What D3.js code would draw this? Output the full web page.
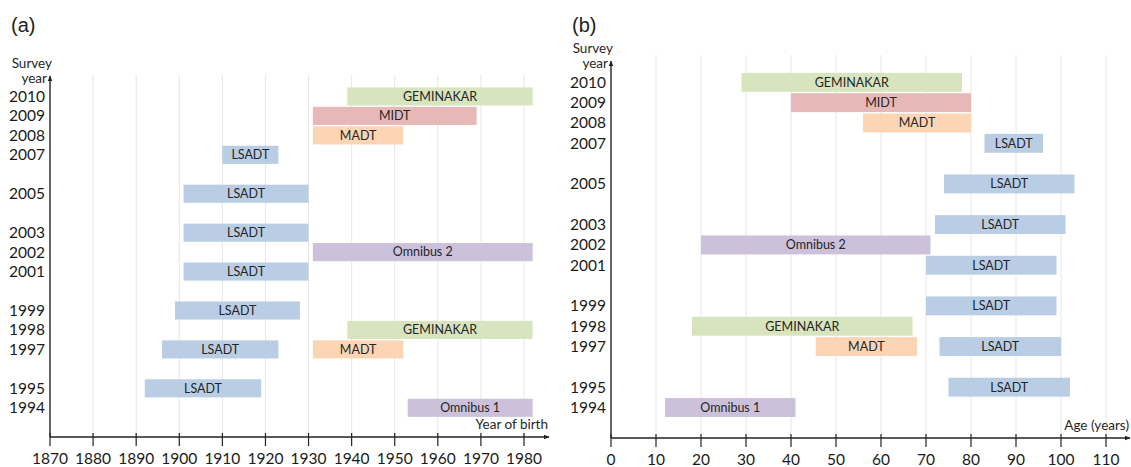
<!DOCTYPE html>
<html>
<head>
<meta charset="utf-8">
<script src="https://cdn.jsdelivr.net/npm/d3@7"></script>
<style>
  body { margin: 0; background: #fff; }
  svg { display: block; }
  .tick-lbl { font-family: Lato, "Open Sans", sans-serif; font-size: 15.5px; fill: #1a1a1a; }
  .bar-lbl  { font-family: Lato, "Open Sans", sans-serif; font-size: 12.5px; fill: #262626; }
  .ax-title { font-family: Lato, "Open Sans", sans-serif; font-size: 13.5px; fill: #262626; }
  .panel    { font-family: "Liberation Sans", Arial, sans-serif; font-size: 20px; fill: #222; }
</style>
</head>
<body>
<svg id="chart" width="1131" height="467"></svg>
<script>
// ── Data: panel (a) by year of birth ───────────────────
const surveyYearsA = [2010, 2009, 2008, 2007, 2005, 2003, 2002, 2001, 1999, 1998, 1997, 1997, 1995, 1994];
const studiesA     = ['GEMINAKAR', 'MIDT', 'MADT', 'LSADT', 'LSADT', 'LSADT', 'Omnibus 2', 'LSADT', 'LSADT', 'GEMINAKAR', 'LSADT', 'MADT', 'LSADT', 'Omnibus 1'];
const birthFromA   = [1939, 1931, 1931, 1910, 1901, 1901, 1931, 1901, 1899, 1939, 1896, 1931, 1892, 1953];
const birthToA     = [1982, 1969, 1952, 1923, 1930, 1930, 1982, 1930, 1928, 1982, 1923, 1952, 1919, 1982];

// ── Data: panel (b) by age ─────────────────────────────
const surveyYearsB = [2010, 2009, 2008, 2007, 2005, 2003, 2002, 2001, 1999, 1998, 1997, 1997, 1995, 1994];
const studiesB     = ['GEMINAKAR', 'MIDT', 'MADT', 'LSADT', 'LSADT', 'LSADT', 'Omnibus 2', 'LSADT', 'LSADT', 'GEMINAKAR', 'MADT', 'LSADT', 'LSADT', 'Omnibus 1'];
const ageFromB     = [29, 40, 56, 83, 74, 72, 20, 70, 70, 18, 45.5, 73, 75, 12];
const ageToB       = [78, 80, 80, 96, 103, 101, 71, 99, 99, 67, 68, 100, 102, 41];

// Axis tick labels
const yearTicks  = [2010, 2009, 2008, 2007, 2005, 2003, 2002, 2001, 1999, 1998, 1997, 1995, 1994];
const birthTicks = d3.range(1870, 1981, 10);
const ageTicks   = d3.range(0, 111, 10);

const studyColor = {
  'LSADT':     '#b9cde5',
  'GEMINAKAR': '#d7e4bd',
  'MIDT':      '#e6b9b8',
  'MADT':      '#fcd5b5',
  'Omnibus 1': '#ccc1da',
  'Omnibus 2': '#ccc1da'
};

const svg = d3.select('#chart');

// Arrow head marker
svg.append('defs').append('marker')
  .attr('id', 'arrow')
  .attr('viewBox', '0 0 10 10')
  .attr('refX', 9).attr('refY', 5)
  .attr('markerWidth', 6).attr('markerHeight', 6)
  .attr('markerUnits', 'userSpaceOnUse')
  .attr('orient', 'auto')
  .append('path')
  .attr('d', 'M0,1 L10,5 L0,9 Z')
  .attr('fill', '#222');

function drawPanel(cfg) {
  const g = svg.append('g');
  const x = d3.scaleLinear().domain(cfg.xDomain).range([cfg.x0, cfg.x1]);
  const y = d3.scaleLinear().domain([1992.5, 2011.05]).range([cfg.yBottom, cfg.yTop]);
  const barH = (y(0) - y(1)) * 0.93;

  // Vertical grid
  g.append('g').selectAll('line')
    .data(cfg.xTicks.slice(1))
    .join('line')
    .attr('x1', d => x(d)).attr('x2', d => x(d))
    .attr('y1', cfg.gridTop).attr('y2', cfg.yBottom)
    .attr('stroke', '#e6e6e6').attr('stroke-width', 1);

  // Bars
  const rows = cfg.years.map((yr, i) => ({
    yr, name: cfg.studies[i], from: cfg.from[i], to: cfg.to[i]
  }));
  g.append('g').selectAll('rect')
    .data(rows)
    .join('rect')
    .attr('x', d => x(d.from))
    .attr('width', d => x(d.to) - x(d.from))
    .attr('y', d => y(d.yr) - barH / 2)
    .attr('height', barH)
    .attr('fill', d => studyColor[d.name]);

  g.append('g').selectAll('text')
    .data(rows)
    .join('text')
    .attr('class', 'bar-lbl')
    .attr('x', d => (x(d.from) + x(d.to)) / 2)
    .attr('y', d => y(d.yr))
    .attr('dy', '0.35em')
    .attr('text-anchor', 'middle')
    .text(d => d.name);

  // X axis
  g.append('line')
    .attr('x1', cfg.x0).attr('x2', cfg.xArrow)
    .attr('y1', cfg.yBottom).attr('y2', cfg.yBottom)
    .attr('stroke', '#222').attr('stroke-width', 1.4)
    .attr('marker-end', 'url(#arrow)');
  g.append('g').selectAll('line')
    .data(cfg.xTicks)
    .join('line')
    .attr('x1', d => x(d)).attr('x2', d => x(d))
    .attr('y1', cfg.yBottom - 4).attr('y2', cfg.yBottom + 9)
    .attr('stroke', '#222').attr('stroke-width', 1.2);
  g.append('g').selectAll('text')
    .data(cfg.xTicks)
    .join('text')
    .attr('class', 'tick-lbl')
    .attr('x', d => x(d))
    .attr('y', cfg.yBottom + 22)
    .attr('dy', '0.35em')
    .attr('text-anchor', 'middle')
    .text(d => d);

  // Y axis
  g.append('line')
    .attr('x1', cfg.x0).attr('x2', cfg.x0)
    .attr('y1', cfg.yBottom).attr('y2', cfg.yTop)
    .attr('stroke', '#222').attr('stroke-width', 1.4)
    .attr('marker-end', 'url(#arrow)');
  g.append('g').selectAll('text')
    .data(yearTicks)
    .join('text')
    .attr('class', 'tick-lbl')
    .attr('x', cfg.x0 - 5)
    .attr('y', d => y(d))
    .attr('dy', '0.35em')
    .attr('text-anchor', 'end')
    .text(d => d);

  // Titles
  g.append('text').attr('class', 'ax-title')
    .attr('x', cfg.x0 + 2).attr('y', cfg.yTop - 8)
    .attr('text-anchor', 'end').text('Survey');
  g.append('text').attr('class', 'ax-title')
    .attr('x', cfg.x0 - 3).attr('y', cfg.yTop + 7)
    .attr('text-anchor', 'end').text('year');
  g.append('text').attr('class', 'ax-title')
    .attr('x', cfg.xArrow - 1).attr('y', cfg.yBottom - 8)
    .attr('text-anchor', 'end').text(cfg.xTitle);
  g.append('text').attr('class', 'panel')
    .attr('x', cfg.x0 - 39).attr('y', 32)
    .text(cfg.label);
}

drawPanel({
  label: '(a)', xTitle: 'Year of birth',
  xDomain: [1870, 1980], x0: 50, x1: 524, xArrow: 549,
  yBottom: 437, yTop: 76, gridTop: 75,
  xTicks: birthTicks,
  years: surveyYearsA, studies: studiesA, from: birthFromA, to: birthToA
});

drawPanel({
  label: '(b)', xTitle: 'Age (years)',
  xDomain: [0, 110], x0: 611, x1: 1106, xArrow: 1130,
  yBottom: 438, yTop: 61, gridTop: 55,
  xTicks: ageTicks,
  years: surveyYearsB, studies: studiesB, from: ageFromB, to: ageToB
});
</script>
</body>
</html>
